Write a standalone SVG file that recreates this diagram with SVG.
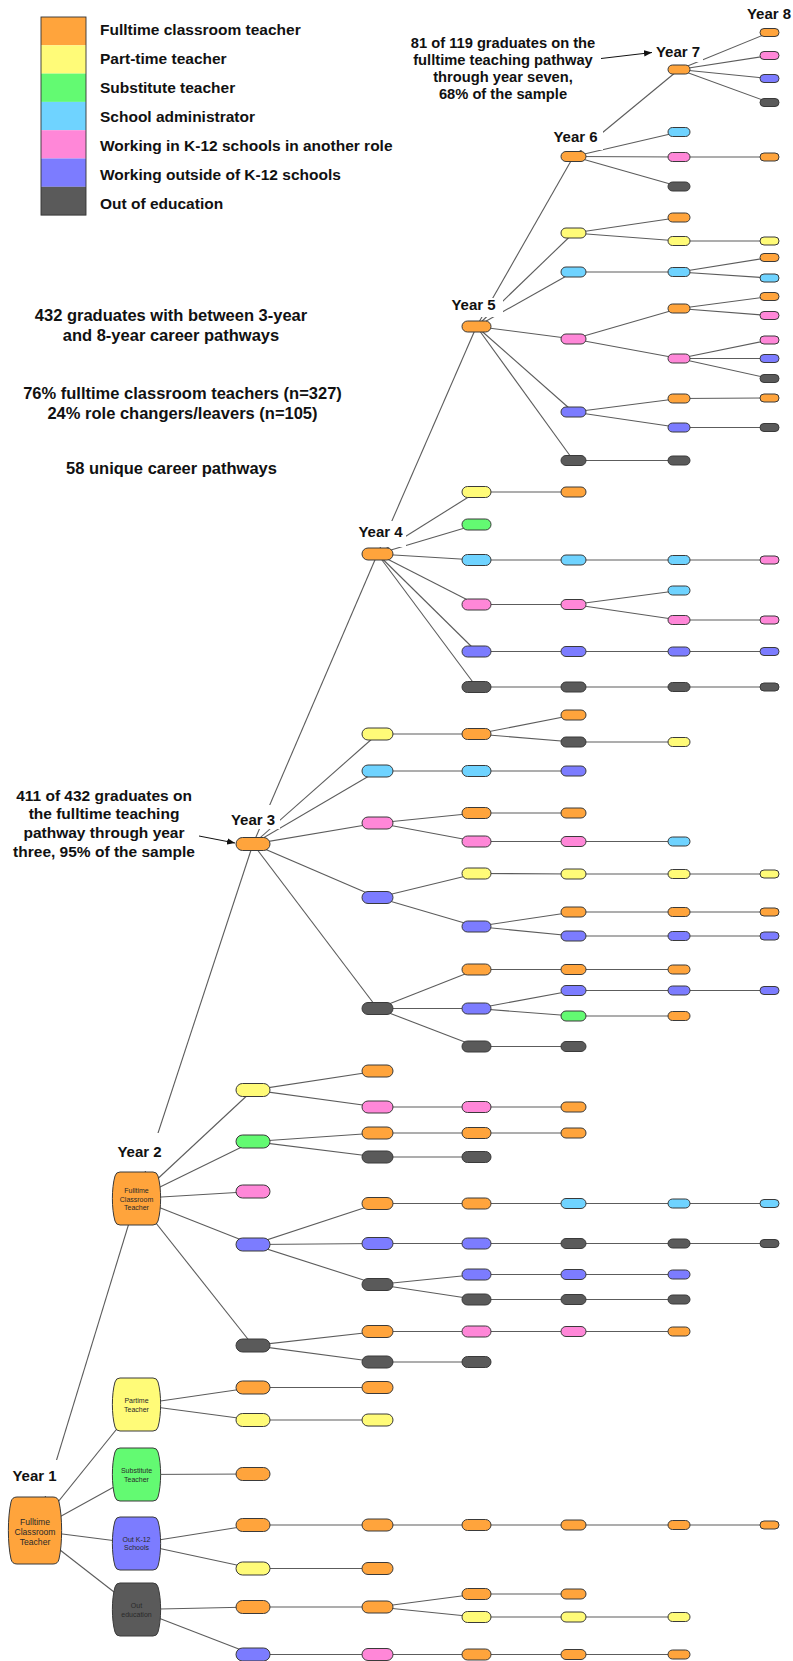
<svg xmlns="http://www.w3.org/2000/svg" xmlns:xlink="http://www.w3.org/1999/xlink" width="793" height="1661" viewBox="0 0 793 1661">
<style>
.o{fill:#FFA43C}.y{fill:#FFFB78}.g{fill:#63FA72}.b{fill:#6FD3FF}.p{fill:#FF87D8}.v{fill:#7C7CFF}.d{fill:#5A5A5A}
.n use{stroke:#3a3a3a;stroke-width:1}
#connectors line{stroke:#5c5c5c;stroke-width:1.1;fill:none}
.t{font-family:"Liberation Sans",Arial,Helvetica,sans-serif;font-weight:bold;fill:#111}
.yr{font-size:15px;text-anchor:middle}
.lg{font-size:15.5px}
.mid{font-size:16.5px;text-anchor:middle}
.an1{font-size:14.7px;text-anchor:middle}
.an2{font-size:15.5px;text-anchor:middle}
.nt{font-family:"Liberation Sans",Arial,Helvetica,sans-serif;fill:#2a2a2a;text-anchor:middle}
.s7t{font-size:7px}.s9t{font-size:8.6px}
.lbg{fill:#fff}
</style>
<defs>
<rect id="s2" width="34" height="13" rx="6.5"/>
<rect id="s3" width="31" height="12" rx="6"/>
<rect id="s4" width="29" height="11" rx="5.5"/>
<rect id="s5" width="25" height="10" rx="5"/>
<rect id="s6" width="22" height="9" rx="4.5"/>
<rect id="s7" width="19" height="8" rx="4"/>
<path id="bn2" d="M8,0 H41 Q45,0 46,4 C49.5,16 49.5,37 46,49 Q45,53 41,53 H8 Q4,53 3,49 C-0.5,37 -0.5,16 3,4 Q4,0 8,0 Z"/>
<path id="bn1" d="M9,0 H45 Q50,0 51,5 C54.5,20 54.5,47 51,62 Q50,67 45,67 H9 Q4,67 3,62 C-0.5,47 -0.5,20 3,5 Q4,0 9,0 Z"/>
<marker id="ah" viewBox="0 0 10 10" refX="10" refY="5" markerWidth="8" markerHeight="8" orient="auto" markerUnits="userSpaceOnUse"><path d="M0,1 L10,5 L0,9 Z" fill="#111"/></marker>
</defs>
<rect width="793" height="1661" fill="#fff"/>

<g id="legend">
<rect class="o" x="41" y="17" width="45" height="28.3"/>
<rect class="y" x="41" y="45.3" width="45" height="28.3"/>
<rect class="g" x="41" y="73.6" width="45" height="28.3"/>
<rect class="b" x="41" y="101.9" width="45" height="28.3"/>
<rect class="p" x="41" y="130.2" width="45" height="28.3"/>
<rect class="v" x="41" y="158.5" width="45" height="28.3"/>
<rect class="d" x="41" y="186.8" width="45" height="28.3"/>
<rect x="41" y="17" width="45" height="198.1" fill="none" stroke="#333" stroke-width="0.9"/>
<text class="t lg" x="100" y="34.8">Fulltime classroom teacher</text>
<text class="t lg" x="100" y="64.3">Part-time teacher</text>
<text class="t lg" x="100" y="93.2">Substitute teacher</text>
<text class="t lg" x="100" y="122.2">School administrator</text>
<text class="t lg" x="100" y="151.2">Working in K-12 schools in another role</text>
<text class="t lg" x="100" y="180">Working outside of K-12 schools</text>
<text class="t lg" x="100" y="209.3">Out of education</text>
</g>

<g id="summary">
<text class="t mid" x="171" y="321">432 graduates with between 3-year</text>
<text class="t mid" x="171" y="341">and 8-year career pathways</text>
<text class="t mid" x="182.5" y="399">76% fulltime classroom teachers (n=327)</text>
<text class="t mid" x="182.5" y="419">24% role changers/leavers (n=105)</text>
<text class="t mid" x="171.5" y="474">58 unique career pathways</text>
</g>

<g id="connectors">
<line x1="35" y1="1530.5" x2="136.5" y2="1198.5"/>
<line x1="35" y1="1530.5" x2="136.5" y2="1404.5"/>
<line x1="35" y1="1530.5" x2="136.5" y2="1474.5"/>
<line x1="35" y1="1530.5" x2="136.5" y2="1543.5"/>
<line x1="35" y1="1530.5" x2="136.5" y2="1609.5"/>
<line x1="136.5" y1="1198.5" x2="253" y2="844"/>
<line x1="136.5" y1="1198.5" x2="253" y2="1090"/>
<line x1="136.5" y1="1198.5" x2="253" y2="1141.5"/>
<line x1="136.5" y1="1198.5" x2="253" y2="1191.5"/>
<line x1="136.5" y1="1198.5" x2="253" y2="1244.5"/>
<line x1="136.5" y1="1198.5" x2="253" y2="1345.5"/>
<line x1="253" y1="1090" x2="377.5" y2="1071"/>
<line x1="253" y1="1090" x2="377.5" y2="1107"/>
<line x1="377.5" y1="1107" x2="476.5" y2="1107"/>
<line x1="476.5" y1="1107" x2="573.5" y2="1107"/>
<line x1="253" y1="1141.5" x2="377.5" y2="1133"/>
<line x1="253" y1="1141.5" x2="377.5" y2="1157"/>
<line x1="377.5" y1="1133" x2="476.5" y2="1133"/>
<line x1="476.5" y1="1133" x2="573.5" y2="1133"/>
<line x1="377.5" y1="1157" x2="476.5" y2="1157"/>
<line x1="253" y1="1244.5" x2="377.5" y2="1203.5"/>
<line x1="253" y1="1244.5" x2="377.5" y2="1243.5"/>
<line x1="253" y1="1244.5" x2="377.5" y2="1284.5"/>
<line x1="377.5" y1="1203.5" x2="476.5" y2="1203.5"/>
<line x1="476.5" y1="1203.5" x2="573.5" y2="1203.5"/>
<line x1="573.5" y1="1203.5" x2="679" y2="1203.5"/>
<line x1="679" y1="1203.5" x2="769.5" y2="1203.5"/>
<line x1="377.5" y1="1243.5" x2="476.5" y2="1243.5"/>
<line x1="476.5" y1="1243.5" x2="573.5" y2="1243.5"/>
<line x1="573.5" y1="1243.5" x2="679" y2="1243.5"/>
<line x1="679" y1="1243.5" x2="769.5" y2="1243.5"/>
<line x1="377.5" y1="1284.5" x2="476.5" y2="1274.5"/>
<line x1="476.5" y1="1274.5" x2="573.5" y2="1274.5"/>
<line x1="573.5" y1="1274.5" x2="679" y2="1274.5"/>
<line x1="377.5" y1="1284.5" x2="476.5" y2="1299.5"/>
<line x1="476.5" y1="1299.5" x2="573.5" y2="1299.5"/>
<line x1="573.5" y1="1299.5" x2="679" y2="1299.5"/>
<line x1="253" y1="1345.5" x2="377.5" y2="1331.5"/>
<line x1="253" y1="1345.5" x2="377.5" y2="1362"/>
<line x1="377.5" y1="1331.5" x2="476.5" y2="1331.5"/>
<line x1="476.5" y1="1331.5" x2="573.5" y2="1331.5"/>
<line x1="573.5" y1="1331.5" x2="679" y2="1331.5"/>
<line x1="377.5" y1="1362" x2="476.5" y2="1362"/>
<line x1="136.5" y1="1404.5" x2="253" y2="1387.5"/>
<line x1="136.5" y1="1404.5" x2="253" y2="1420"/>
<line x1="253" y1="1387.5" x2="377.5" y2="1387.5"/>
<line x1="253" y1="1420" x2="377.5" y2="1420"/>
<line x1="136.5" y1="1474.5" x2="253" y2="1474"/>
<line x1="136.5" y1="1543.5" x2="253" y2="1525"/>
<line x1="136.5" y1="1543.5" x2="253" y2="1568.5"/>
<line x1="253" y1="1525" x2="377.5" y2="1525"/>
<line x1="377.5" y1="1525" x2="476.5" y2="1525"/>
<line x1="476.5" y1="1525" x2="573.5" y2="1525"/>
<line x1="573.5" y1="1525" x2="679" y2="1525"/>
<line x1="679" y1="1525" x2="769.5" y2="1525"/>
<line x1="253" y1="1568.5" x2="377.5" y2="1568.5"/>
<line x1="136.5" y1="1609.5" x2="253" y2="1607"/>
<line x1="136.5" y1="1609.5" x2="253" y2="1654.5"/>
<line x1="253" y1="1607" x2="377.5" y2="1607"/>
<line x1="377.5" y1="1607" x2="476.5" y2="1594"/>
<line x1="476.5" y1="1594" x2="573.5" y2="1594"/>
<line x1="377.5" y1="1607" x2="476.5" y2="1617"/>
<line x1="476.5" y1="1617" x2="573.5" y2="1617"/>
<line x1="573.5" y1="1617" x2="679" y2="1617"/>
<line x1="253" y1="1654.5" x2="377.5" y2="1654.5"/>
<line x1="377.5" y1="1654.5" x2="476.5" y2="1654.5"/>
<line x1="476.5" y1="1654.5" x2="573.5" y2="1654.5"/>
<line x1="573.5" y1="1654.5" x2="679" y2="1654.5"/>
<line x1="253" y1="844" x2="377.5" y2="554"/>
<line x1="253" y1="844" x2="377.5" y2="734"/>
<line x1="253" y1="844" x2="377.5" y2="771"/>
<line x1="253" y1="844" x2="377.5" y2="823"/>
<line x1="253" y1="844" x2="377.5" y2="897.5"/>
<line x1="253" y1="844" x2="377.5" y2="1008.5"/>
<line x1="377.5" y1="734" x2="476.5" y2="734"/>
<line x1="476.5" y1="734" x2="573.5" y2="715"/>
<line x1="476.5" y1="734" x2="573.5" y2="742"/>
<line x1="573.5" y1="742" x2="679" y2="742"/>
<line x1="377.5" y1="771" x2="476.5" y2="771"/>
<line x1="476.5" y1="771" x2="573.5" y2="771"/>
<line x1="377.5" y1="823" x2="476.5" y2="813"/>
<line x1="476.5" y1="813" x2="573.5" y2="813"/>
<line x1="377.5" y1="823" x2="476.5" y2="841.5"/>
<line x1="476.5" y1="841.5" x2="573.5" y2="841.5"/>
<line x1="573.5" y1="841.5" x2="679" y2="841.5"/>
<line x1="377.5" y1="897.5" x2="476.5" y2="873.5"/>
<line x1="476.5" y1="873.5" x2="573.5" y2="874"/>
<line x1="573.5" y1="874" x2="679" y2="874"/>
<line x1="679" y1="874" x2="769.5" y2="874"/>
<line x1="377.5" y1="897.5" x2="476.5" y2="926.5"/>
<line x1="476.5" y1="926.5" x2="573.5" y2="912"/>
<line x1="573.5" y1="912" x2="679" y2="912"/>
<line x1="679" y1="912" x2="769.5" y2="912"/>
<line x1="476.5" y1="926.5" x2="573.5" y2="936"/>
<line x1="573.5" y1="936" x2="679" y2="936"/>
<line x1="679" y1="936" x2="769.5" y2="936"/>
<line x1="377.5" y1="1008.5" x2="476.5" y2="969.5"/>
<line x1="476.5" y1="969.5" x2="573.5" y2="969.5"/>
<line x1="573.5" y1="969.5" x2="679" y2="969.5"/>
<line x1="377.5" y1="1008.5" x2="476.5" y2="1008.5"/>
<line x1="476.5" y1="1008.5" x2="573.5" y2="990.5"/>
<line x1="573.5" y1="990.5" x2="679" y2="990.5"/>
<line x1="679" y1="990.5" x2="769.5" y2="990.5"/>
<line x1="476.5" y1="1008.5" x2="573.5" y2="1016"/>
<line x1="573.5" y1="1016" x2="679" y2="1016"/>
<line x1="377.5" y1="1008.5" x2="476.5" y2="1046.5"/>
<line x1="476.5" y1="1046.5" x2="573.5" y2="1046.5"/>
<line x1="377.5" y1="554" x2="476.5" y2="326.5"/>
<line x1="377.5" y1="554" x2="476.5" y2="492"/>
<line x1="377.5" y1="554" x2="476.5" y2="524.5"/>
<line x1="377.5" y1="554" x2="476.5" y2="560"/>
<line x1="377.5" y1="554" x2="476.5" y2="604.5"/>
<line x1="377.5" y1="554" x2="476.5" y2="651.5"/>
<line x1="377.5" y1="554" x2="476.5" y2="687"/>
<line x1="476.5" y1="492" x2="573.5" y2="492"/>
<line x1="476.5" y1="560" x2="573.5" y2="560"/>
<line x1="573.5" y1="560" x2="679" y2="560"/>
<line x1="679" y1="560" x2="769.5" y2="560"/>
<line x1="476.5" y1="604.5" x2="573.5" y2="604.5"/>
<line x1="573.5" y1="604.5" x2="679" y2="590.5"/>
<line x1="573.5" y1="604.5" x2="679" y2="620"/>
<line x1="679" y1="620" x2="769.5" y2="620"/>
<line x1="476.5" y1="651.5" x2="573.5" y2="651.5"/>
<line x1="573.5" y1="651.5" x2="679" y2="651.5"/>
<line x1="679" y1="651.5" x2="769.5" y2="651.5"/>
<line x1="476.5" y1="687" x2="573.5" y2="687"/>
<line x1="573.5" y1="687" x2="679" y2="687"/>
<line x1="679" y1="687" x2="769.5" y2="687"/>
<line x1="476.5" y1="326.5" x2="573.5" y2="156.5"/>
<line x1="476.5" y1="326.5" x2="573.5" y2="233"/>
<line x1="476.5" y1="326.5" x2="573.5" y2="272"/>
<line x1="476.5" y1="326.5" x2="573.5" y2="339"/>
<line x1="476.5" y1="326.5" x2="573.5" y2="412"/>
<line x1="476.5" y1="326.5" x2="573.5" y2="460.5"/>
<line x1="573.5" y1="233" x2="679" y2="217.5"/>
<line x1="573.5" y1="233" x2="679" y2="241"/>
<line x1="679" y1="241" x2="769.5" y2="241"/>
<line x1="573.5" y1="272" x2="679" y2="272"/>
<line x1="679" y1="272" x2="769.5" y2="257.5"/>
<line x1="679" y1="272" x2="769.5" y2="278"/>
<line x1="573.5" y1="339" x2="679" y2="308.5"/>
<line x1="679" y1="308.5" x2="769.5" y2="296.5"/>
<line x1="679" y1="308.5" x2="769.5" y2="315.5"/>
<line x1="573.5" y1="339" x2="679" y2="358.5"/>
<line x1="679" y1="358.5" x2="769.5" y2="340"/>
<line x1="679" y1="358.5" x2="769.5" y2="358.5"/>
<line x1="679" y1="358.5" x2="769.5" y2="378.5"/>
<line x1="573.5" y1="412" x2="679" y2="398.5"/>
<line x1="679" y1="398.5" x2="769.5" y2="398"/>
<line x1="573.5" y1="412" x2="679" y2="427.5"/>
<line x1="679" y1="427.5" x2="769.5" y2="427.5"/>
<line x1="573.5" y1="460.5" x2="679" y2="460.5"/>
<line x1="573.5" y1="156.5" x2="679" y2="69.5"/>
<line x1="573.5" y1="156.5" x2="679" y2="132"/>
<line x1="573.5" y1="156.5" x2="679" y2="157"/>
<line x1="573.5" y1="156.5" x2="679" y2="186.5"/>
<line x1="679" y1="157" x2="769.5" y2="157"/>
<line x1="679" y1="69.5" x2="769.5" y2="32.5"/>
<line x1="679" y1="69.5" x2="769.5" y2="55.5"/>
<line x1="679" y1="69.5" x2="769.5" y2="78.5"/>
<line x1="679" y1="69.5" x2="769.5" y2="102.5"/>
</g>

<g id="annotations">
<line x1="601" y1="58.5" x2="652" y2="52.5" stroke="#111" stroke-width="1" marker-end="url(#ah)"/>
<text class="t an1" x="503" y="47.7">81 of 119 graduates on the</text>
<text class="t an1" x="503" y="65">fulltime teaching pathway</text>
<text class="t an1" x="503" y="82.3">through year seven,</text>
<text class="t an1" x="503" y="99.3">68% of the sample</text>
<line x1="199" y1="836" x2="235" y2="843" stroke="#111" stroke-width="1" marker-end="url(#ah)"/>
<text class="t an2" x="104" y="800.7">411 of 432 graduates on</text>
<text class="t an2" x="104" y="819.3">the fulltime teaching</text>
<text class="t an2" x="104" y="838">pathway through year</text>
<text class="t an2" x="104" y="856.7">three, 95% of the sample</text>
</g>

<g id="year-labels">
<rect class="lbg" x="654" y="44" width="49" height="18"/>
<rect class="lbg" x="551" y="128" width="52" height="22"/>
<rect class="lbg" x="449" y="298" width="54" height="19"/>
<rect class="lbg" x="355" y="521" width="51" height="26"/>
<rect class="lbg" x="228" y="805" width="52" height="24"/>
<rect class="lbg" x="114" y="1133" width="51" height="38"/>
<rect class="lbg" x="10" y="1460" width="50" height="36"/>
<text class="t yr" x="769" y="19">Year 8</text>
<text class="t yr" x="678" y="57">Year 7</text>
<text class="t yr" x="575.5" y="142">Year 6</text>
<text class="t yr" x="473.5" y="310">Year 5</text>
<text class="t yr" x="380.5" y="537">Year 4</text>
<text class="t yr" x="253" y="825">Year 3</text>
<text class="t yr" x="139.5" y="1157">Year 2</text>
<text class="t yr" x="34.5" y="1481">Year 1</text>
</g>

<g id="nodes">
<g id="y1-fulltime" class="n"><use href="#bn1" x="8" y="1497" class="o"/><text class="nt s9t" x="35" y="1524.7">Fulltime</text><text class="nt s9t" x="35" y="1535">Classroom</text><text class="nt s9t" x="35" y="1545.3">Teacher</text></g>
<g id="y2-fulltime" class="n"><use href="#bn2" x="112" y="1172" class="o"/><text class="nt s7t" x="136.5" y="1192.5">Fulltime</text><text class="nt s7t" x="136.5" y="1201.5">Classroom</text><text class="nt s7t" x="136.5" y="1210">Teacher</text></g>
<g id="y2-parttime" class="n"><use href="#bn2" x="112" y="1378" class="y"/><text class="nt s7t" x="136.5" y="1402.5">Partime</text><text class="nt s7t" x="136.5" y="1411.5">Teacher</text></g>
<g id="y2-substitute" class="n"><use href="#bn2" x="112" y="1448" class="g"/><text class="nt s7t" x="136.5" y="1472.5">Substitute</text><text class="nt s7t" x="136.5" y="1481.5">Teacher</text></g>
<g id="y2-outk12" class="n"><use href="#bn2" x="112" y="1517" class="v"/><text class="nt s7t" x="136.5" y="1541.5">Out K-12</text><text class="nt s7t" x="136.5" y="1549.5">Schools</text></g>
<g id="y2-outedu" class="n"><use href="#bn2" x="112" y="1583" class="d"/><text class="nt s7t" x="136.5" y="1608">Out</text><text class="nt s7t" x="136.5" y="1616.5">education</text></g>

<g id="c2-844" class="n"><use href="#s2" x="236" y="837.5" class="o"/></g>
<g id="c2-1090" class="n"><use href="#s2" x="236" y="1083.5" class="y"/></g>
<g id="c2-1141" class="n"><use href="#s2" x="236" y="1135" class="g"/></g>
<g id="c2-1191" class="n"><use href="#s2" x="236" y="1185" class="p"/></g>
<g id="c2-1244" class="n"><use href="#s2" x="236" y="1238" class="v"/></g>
<g id="c2-1345" class="n"><use href="#s2" x="236" y="1339" class="d"/></g>
<g id="c2-1387" class="n"><use href="#s2" x="236" y="1381" class="o"/></g>
<g id="c2-1420" class="n"><use href="#s2" x="236" y="1413.5" class="y"/></g>
<g id="c2-1474" class="n"><use href="#s2" x="236" y="1467.5" class="o"/></g>
<g id="c2-1525" class="n"><use href="#s2" x="236" y="1518.5" class="o"/></g>
<g id="c2-1568" class="n"><use href="#s2" x="236" y="1562" class="y"/></g>
<g id="c2-1607" class="n"><use href="#s2" x="236" y="1600.5" class="o"/></g>
<g id="c2-1654" class="n"><use href="#s2" x="236" y="1648" class="v"/></g>

<g id="c3-554" class="n"><use href="#s3" x="362" y="548" class="o"/></g>
<g id="c3-734" class="n"><use href="#s3" x="362" y="728" class="y"/></g>
<g id="c3-771" class="n"><use href="#s3" x="362" y="765" class="b"/></g>
<g id="c3-823" class="n"><use href="#s3" x="362" y="817" class="p"/></g>
<g id="c3-897" class="n"><use href="#s3" x="362" y="891.5" class="v"/></g>
<g id="c3-1008" class="n"><use href="#s3" x="362" y="1002.5" class="d"/></g>
<g id="c3-1071" class="n"><use href="#s3" x="362" y="1065" class="o"/></g>
<g id="c3-1107" class="n"><use href="#s3" x="362" y="1101" class="p"/></g>
<g id="c3-1133" class="n"><use href="#s3" x="362" y="1127" class="o"/></g>
<g id="c3-1157" class="n"><use href="#s3" x="362" y="1151" class="d"/></g>
<g id="c3-1203" class="n"><use href="#s3" x="362" y="1197.5" class="o"/></g>
<g id="c3-1243" class="n"><use href="#s3" x="362" y="1237.5" class="v"/></g>
<g id="c3-1284" class="n"><use href="#s3" x="362" y="1278.5" class="d"/></g>
<g id="c3-1331" class="n"><use href="#s3" x="362" y="1325.5" class="o"/></g>
<g id="c3-1362" class="n"><use href="#s3" x="362" y="1356" class="d"/></g>
<g id="c3-1387" class="n"><use href="#s3" x="362" y="1381.5" class="o"/></g>
<g id="c3-1420" class="n"><use href="#s3" x="362" y="1414" class="y"/></g>
<g id="c3-1525" class="n"><use href="#s3" x="362" y="1519" class="o"/></g>
<g id="c3-1568" class="n"><use href="#s3" x="362" y="1562.5" class="o"/></g>
<g id="c3-1607" class="n"><use href="#s3" x="362" y="1601" class="o"/></g>
<g id="c3-1654" class="n"><use href="#s3" x="362" y="1648.5" class="p"/></g>

<g id="c4-326" class="n"><use href="#s4" x="462" y="321" class="o"/></g>
<g id="c4-492" class="n"><use href="#s4" x="462" y="486.5" class="y"/></g>
<g id="c4-524" class="n"><use href="#s4" x="462" y="519" class="g"/></g>
<g id="c4-560" class="n"><use href="#s4" x="462" y="554.5" class="b"/></g>
<g id="c4-604" class="n"><use href="#s4" x="462" y="599" class="p"/></g>
<g id="c4-651" class="n"><use href="#s4" x="462" y="646" class="v"/></g>
<g id="c4-687" class="n"><use href="#s4" x="462" y="681.5" class="d"/></g>
<g id="c4-734" class="n"><use href="#s4" x="462" y="728.5" class="o"/></g>
<g id="c4-771" class="n"><use href="#s4" x="462" y="765.5" class="b"/></g>
<g id="c4-813" class="n"><use href="#s4" x="462" y="807.5" class="o"/></g>
<g id="c4-841" class="n"><use href="#s4" x="462" y="836" class="p"/></g>
<g id="c4-873" class="n"><use href="#s4" x="462" y="868" class="y"/></g>
<g id="c4-926" class="n"><use href="#s4" x="462" y="921" class="v"/></g>
<g id="c4-969" class="n"><use href="#s4" x="462" y="964" class="o"/></g>
<g id="c4-1008" class="n"><use href="#s4" x="462" y="1003" class="v"/></g>
<g id="c4-1046" class="n"><use href="#s4" x="462" y="1041" class="d"/></g>
<g id="c4-1107" class="n"><use href="#s4" x="462" y="1101.5" class="p"/></g>
<g id="c4-1133" class="n"><use href="#s4" x="462" y="1127.5" class="o"/></g>
<g id="c4-1157" class="n"><use href="#s4" x="462" y="1151.5" class="d"/></g>
<g id="c4-1203" class="n"><use href="#s4" x="462" y="1198" class="o"/></g>
<g id="c4-1243" class="n"><use href="#s4" x="462" y="1238" class="v"/></g>
<g id="c4-1274" class="n"><use href="#s4" x="462" y="1269" class="v"/></g>
<g id="c4-1299" class="n"><use href="#s4" x="462" y="1294" class="d"/></g>
<g id="c4-1331" class="n"><use href="#s4" x="462" y="1326" class="p"/></g>
<g id="c4-1362" class="n"><use href="#s4" x="462" y="1356.5" class="d"/></g>
<g id="c4-1525" class="n"><use href="#s4" x="462" y="1519.5" class="o"/></g>
<g id="c4-1594" class="n"><use href="#s4" x="462" y="1588.5" class="o"/></g>
<g id="c4-1617" class="n"><use href="#s4" x="462" y="1611.5" class="y"/></g>
<g id="c4-1654" class="n"><use href="#s4" x="462" y="1649" class="o"/></g>

<g id="c5-156" class="n"><use href="#s5" x="561" y="151.5" class="o"/></g>
<g id="c5-233" class="n"><use href="#s5" x="561" y="228" class="y"/></g>
<g id="c5-272" class="n"><use href="#s5" x="561" y="267" class="b"/></g>
<g id="c5-339" class="n"><use href="#s5" x="561" y="334" class="p"/></g>
<g id="c5-412" class="n"><use href="#s5" x="561" y="407" class="v"/></g>
<g id="c5-460" class="n"><use href="#s5" x="561" y="455.5" class="d"/></g>
<g id="c5-492" class="n"><use href="#s5" x="561" y="487" class="o"/></g>
<g id="c5-560" class="n"><use href="#s5" x="561" y="555" class="b"/></g>
<g id="c5-604" class="n"><use href="#s5" x="561" y="599.5" class="p"/></g>
<g id="c5-651" class="n"><use href="#s5" x="561" y="646.5" class="v"/></g>
<g id="c5-687" class="n"><use href="#s5" x="561" y="682" class="d"/></g>
<g id="c5-715" class="n"><use href="#s5" x="561" y="710" class="o"/></g>
<g id="c5-742" class="n"><use href="#s5" x="561" y="737" class="d"/></g>
<g id="c5-771" class="n"><use href="#s5" x="561" y="766" class="v"/></g>
<g id="c5-813" class="n"><use href="#s5" x="561" y="808" class="o"/></g>
<g id="c5-841" class="n"><use href="#s5" x="561" y="836.5" class="p"/></g>
<g id="c5-874" class="n"><use href="#s5" x="561" y="869" class="y"/></g>
<g id="c5-912" class="n"><use href="#s5" x="561" y="907" class="o"/></g>
<g id="c5-936" class="n"><use href="#s5" x="561" y="931" class="v"/></g>
<g id="c5-969" class="n"><use href="#s5" x="561" y="964.5" class="o"/></g>
<g id="c5-990" class="n"><use href="#s5" x="561" y="985.5" class="v"/></g>
<g id="c5-1016" class="n"><use href="#s5" x="561" y="1011" class="g"/></g>
<g id="c5-1046" class="n"><use href="#s5" x="561" y="1041.5" class="d"/></g>
<g id="c5-1107" class="n"><use href="#s5" x="561" y="1102" class="o"/></g>
<g id="c5-1133" class="n"><use href="#s5" x="561" y="1128" class="o"/></g>
<g id="c5-1203" class="n"><use href="#s5" x="561" y="1198.5" class="b"/></g>
<g id="c5-1243" class="n"><use href="#s5" x="561" y="1238.5" class="d"/></g>
<g id="c5-1274" class="n"><use href="#s5" x="561" y="1269.5" class="v"/></g>
<g id="c5-1299" class="n"><use href="#s5" x="561" y="1294.5" class="d"/></g>
<g id="c5-1331" class="n"><use href="#s5" x="561" y="1326.5" class="p"/></g>
<g id="c5-1525" class="n"><use href="#s5" x="561" y="1520" class="o"/></g>
<g id="c5-1594" class="n"><use href="#s5" x="561" y="1589" class="o"/></g>
<g id="c5-1617" class="n"><use href="#s5" x="561" y="1612" class="y"/></g>
<g id="c5-1654" class="n"><use href="#s5" x="561" y="1649.5" class="o"/></g>

<g id="c6-69" class="n"><use href="#s6" x="668" y="65" class="o"/></g>
<g id="c6-132" class="n"><use href="#s6" x="668" y="127.5" class="b"/></g>
<g id="c6-157" class="n"><use href="#s6" x="668" y="152.5" class="p"/></g>
<g id="c6-186" class="n"><use href="#s6" x="668" y="182" class="d"/></g>
<g id="c6-217" class="n"><use href="#s6" x="668" y="213" class="o"/></g>
<g id="c6-241" class="n"><use href="#s6" x="668" y="236.5" class="y"/></g>
<g id="c6-272" class="n"><use href="#s6" x="668" y="267.5" class="b"/></g>
<g id="c6-308" class="n"><use href="#s6" x="668" y="304" class="o"/></g>
<g id="c6-358" class="n"><use href="#s6" x="668" y="354" class="p"/></g>
<g id="c6-398" class="n"><use href="#s6" x="668" y="394" class="o"/></g>
<g id="c6-427" class="n"><use href="#s6" x="668" y="423" class="v"/></g>
<g id="c6-460" class="n"><use href="#s6" x="668" y="456" class="d"/></g>
<g id="c6-560" class="n"><use href="#s6" x="668" y="555.5" class="b"/></g>
<g id="c6-590" class="n"><use href="#s6" x="668" y="586" class="b"/></g>
<g id="c6-620" class="n"><use href="#s6" x="668" y="615.5" class="p"/></g>
<g id="c6-651" class="n"><use href="#s6" x="668" y="647" class="v"/></g>
<g id="c6-687" class="n"><use href="#s6" x="668" y="682.5" class="d"/></g>
<g id="c6-742" class="n"><use href="#s6" x="668" y="737.5" class="y"/></g>
<g id="c6-841" class="n"><use href="#s6" x="668" y="837" class="b"/></g>
<g id="c6-874" class="n"><use href="#s6" x="668" y="869.5" class="y"/></g>
<g id="c6-912" class="n"><use href="#s6" x="668" y="907.5" class="o"/></g>
<g id="c6-936" class="n"><use href="#s6" x="668" y="931.5" class="v"/></g>
<g id="c6-969" class="n"><use href="#s6" x="668" y="965" class="o"/></g>
<g id="c6-990" class="n"><use href="#s6" x="668" y="986" class="v"/></g>
<g id="c6-1016" class="n"><use href="#s6" x="668" y="1011.5" class="o"/></g>
<g id="c6-1203" class="n"><use href="#s6" x="668" y="1199" class="b"/></g>
<g id="c6-1243" class="n"><use href="#s6" x="668" y="1239" class="d"/></g>
<g id="c6-1274" class="n"><use href="#s6" x="668" y="1270" class="v"/></g>
<g id="c6-1299" class="n"><use href="#s6" x="668" y="1295" class="d"/></g>
<g id="c6-1331" class="n"><use href="#s6" x="668" y="1327" class="o"/></g>
<g id="c6-1525" class="n"><use href="#s6" x="668" y="1520.5" class="o"/></g>
<g id="c6-1617" class="n"><use href="#s6" x="668" y="1612.5" class="y"/></g>
<g id="c6-1654" class="n"><use href="#s6" x="668" y="1650" class="o"/></g>

<g id="c7-32" class="n"><use href="#s7" x="760" y="28.5" class="o"/></g>
<g id="c7-55" class="n"><use href="#s7" x="760" y="51.5" class="p"/></g>
<g id="c7-78" class="n"><use href="#s7" x="760" y="74.5" class="v"/></g>
<g id="c7-102" class="n"><use href="#s7" x="760" y="98.5" class="d"/></g>
<g id="c7-157" class="n"><use href="#s7" x="760" y="153" class="o"/></g>
<g id="c7-241" class="n"><use href="#s7" x="760" y="237" class="y"/></g>
<g id="c7-257" class="n"><use href="#s7" x="760" y="253.5" class="o"/></g>
<g id="c7-278" class="n"><use href="#s7" x="760" y="274" class="b"/></g>
<g id="c7-296" class="n"><use href="#s7" x="760" y="292.5" class="o"/></g>
<g id="c7-315" class="n"><use href="#s7" x="760" y="311.5" class="p"/></g>
<g id="c7-340" class="n"><use href="#s7" x="760" y="336" class="p"/></g>
<g id="c7-358" class="n"><use href="#s7" x="760" y="354.5" class="v"/></g>
<g id="c7-378" class="n"><use href="#s7" x="760" y="374.5" class="d"/></g>
<g id="c7-398" class="n"><use href="#s7" x="760" y="394" class="o"/></g>
<g id="c7-427" class="n"><use href="#s7" x="760" y="423.5" class="d"/></g>
<g id="c7-560" class="n"><use href="#s7" x="760" y="556" class="p"/></g>
<g id="c7-620" class="n"><use href="#s7" x="760" y="616" class="p"/></g>
<g id="c7-651" class="n"><use href="#s7" x="760" y="647.5" class="v"/></g>
<g id="c7-687" class="n"><use href="#s7" x="760" y="683" class="d"/></g>
<g id="c7-874" class="n"><use href="#s7" x="760" y="870" class="y"/></g>
<g id="c7-912" class="n"><use href="#s7" x="760" y="908" class="o"/></g>
<g id="c7-936" class="n"><use href="#s7" x="760" y="932" class="v"/></g>
<g id="c7-990" class="n"><use href="#s7" x="760" y="986.5" class="v"/></g>
<g id="c7-1203" class="n"><use href="#s7" x="760" y="1199.5" class="b"/></g>
<g id="c7-1243" class="n"><use href="#s7" x="760" y="1239.5" class="d"/></g>
<g id="c7-1525" class="n"><use href="#s7" x="760" y="1521" class="o"/></g>
</g>
</svg>
